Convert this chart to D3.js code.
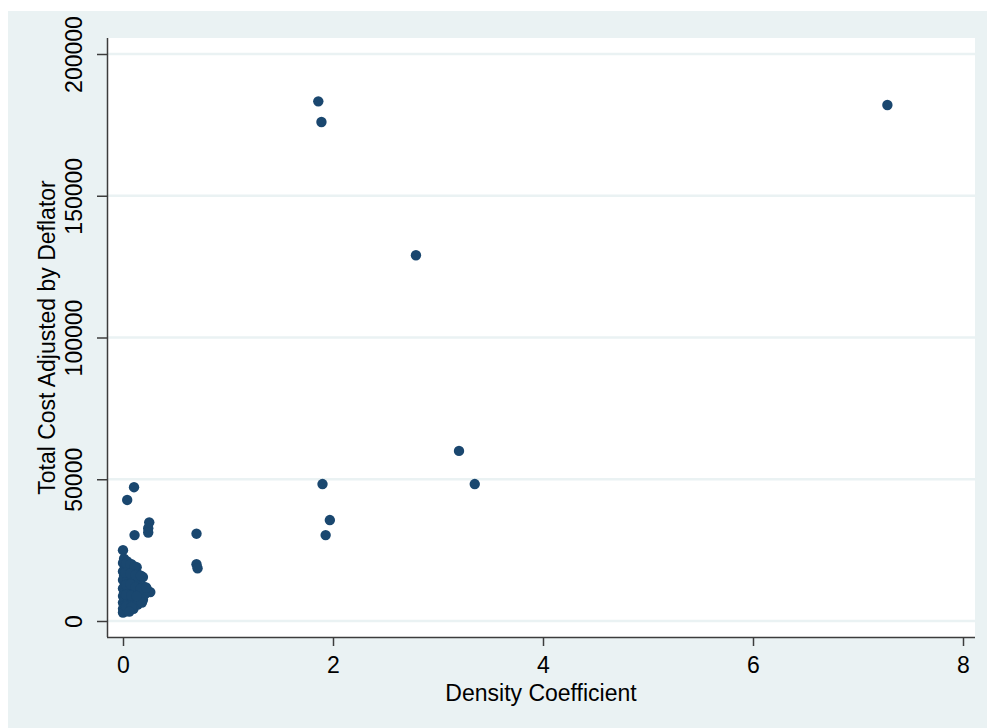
<!DOCTYPE html>
<html>
<head>
<meta charset="utf-8">
<script src="https://cdn.jsdelivr.net/npm/d3@7"></script>
<style>
  body { margin: 0; background: #fff; }
  svg { display: block; }
</style>
</head>
<body>
<script>
// Data
const densityCoef = [
  7.28, 1.86, 1.89, 2.79, 3.20, 3.35, 1.90, 1.97, 1.93, 0.70, 0.70, 0.71,
  0.25, 0.24, 0.24, 0.105, 0.04, 0.11,
  0.00, 0.01, 0.00, 0.02, 0.00, 0.01, 0.00, 0.02, 0.00, 0.01, 0.00, 0.02, 0.00, 0.01, 0.00, 0.02, 0.00,
  0.04, 0.06, 0.04, 0.05, 0.04, 0.06, 0.04, 0.05, 0.04, 0.06, 0.04, 0.05, 0.04,
  0.08, 0.10, 0.08, 0.09, 0.10, 0.08, 0.09, 0.10, 0.08, 0.09, 0.08, 0.10,
  0.13, 0.14, 0.15, 0.13, 0.16, 0.14, 0.15, 0.13, 0.16, 0.14,
  0.19, 0.20, 0.23, 0.26, 0.21, 0.19, 0.18,
  0.03, 0.07, 0.11, 0.02, 0.07, 0.12, 0.17, 0.03, 0.07, 0.12, 0.17, 0.22, 0.03, 0.08, 0.13, 0.03, 0.08, 0.06
];
const totalCost = [
  182000, 183300, 176000, 129000, 60000, 48300, 48300, 35600, 30300, 30800, 20000, 18600,
  34800, 32700, 31200, 47200, 42700, 30300,
  25000, 22000, 20500, 19000, 17500, 16000, 14500, 13000, 11500, 10000, 8800, 7600, 6500, 5400, 4300, 3400, 3000,
  21000, 19500, 18000, 16500, 14800, 13200, 11800, 10200, 8900, 7500, 6200, 5000, 3800,
  20000, 18800, 17000, 15500, 14000, 12500, 11000, 9500, 8200, 6800, 5500, 4300,
  19000, 16500, 15000, 13500, 12200, 10800, 9300, 8000, 6800, 5800,
  15500, 12000, 11000, 10200, 9500, 7500, 6500,
  20200, 20000, 19200, 17000, 16800, 16200, 16000, 12800, 13000, 12000, 11500, 11800, 9200, 9000, 8800, 5200, 5000, 3300
];
const xTicks = [0, 2, 4, 6, 8];
const yTicks = [0, 50000, 100000, 150000, 200000];
const xTitle = "Density Coefficient";
const yTitle = "Total Cost Adjusted by Deflator";

// Colors (Stata s2color)
const bgColor = '#eaf2f3';
const gridColor = '#eaf2f3';
const markerColor = '#1a476f';
const axisColor = '#3c3c3c';

const width = 987, height = 728;
const plot = { left: 107, right: 975, top: 38, bottom: 637 };
const fontFamily = '"Liberation Sans", Arial, sans-serif';
const fontSize = 23;

const x = d3.scaleLinear().domain([0, 8]).range([123, 963]);
const y = d3.scaleLinear().domain([0, 200000]).range([621, 54]);

const svg = d3.select("body").append("svg")
  .attr("width", width)
  .attr("height", height)
  .attr("font-family", fontFamily);

// graph region background
svg.append("rect")
  .attr("x", 8).attr("y", 11)
  .attr("width", width - 8).attr("height", height - 11)
  .attr("fill", bgColor);

// plot region
svg.append("rect")
  .attr("x", plot.left).attr("y", plot.top)
  .attr("width", plot.right - plot.left).attr("height", plot.bottom - plot.top)
  .attr("fill", "#fff");

// gridlines
svg.append("g")
  .selectAll("line")
  .data(yTicks)
  .join("line")
  .attr("x1", plot.left).attr("x2", plot.right)
  .attr("y1", d => y(d)).attr("y2", d => y(d))
  .attr("stroke", gridColor)
  .attr("stroke-width", 2.5);

// y axis
const yAxis = svg.append("g")
  .attr("transform", `translate(${plot.left},0)`)
  .call(d3.axisLeft(y).tickValues(yTicks).tickSize(10).tickPadding(0).tickFormat(d3.format("d")));
yAxis.select(".domain")
  .attr("d", `M0.5,${plot.top}V${plot.bottom}`)
  .attr("stroke", axisColor)
  .attr("stroke-width", 1.5);
yAxis.selectAll(".tick line").attr("stroke", axisColor).attr("stroke-width", 1.5);
yAxis.selectAll(".tick text")
  .attr("x", null).attr("dy", null)
  .attr("transform", `translate(${74 - plot.left},0) rotate(-90)`)
  .attr("text-anchor", "middle")
  .attr("dominant-baseline", "central")
  .attr("fill", "#000")
  .attr("font-family", fontFamily)
  .attr("font-size", fontSize);

// x axis
const xAxis = svg.append("g")
  .attr("transform", `translate(0,${plot.bottom})`)
  .call(d3.axisBottom(x).tickValues(xTicks).tickSize(9).tickPadding(0).tickFormat(d3.format("d")));
xAxis.select(".domain")
  .attr("d", `M${plot.left},0.5H${plot.right}`)
  .attr("stroke", axisColor)
  .attr("stroke-width", 1.5);
xAxis.selectAll(".tick line").attr("stroke", axisColor).attr("stroke-width", 1.5);
xAxis.selectAll(".tick text")
  .attr("y", 28).attr("dy", null)
  .attr("dominant-baseline", "central")
  .attr("fill", "#000")
  .attr("font-family", fontFamily)
  .attr("font-size", fontSize);

// axis titles
svg.append("text")
  .attr("x", (plot.left + plot.right) / 2)
  .attr("y", 693)
  .attr("text-anchor", "middle")
  .attr("dominant-baseline", "central")
  .attr("font-size", fontSize)
  .text(xTitle);

svg.append("text")
  .attr("transform", `translate(47,${(plot.top + plot.bottom) / 2}) rotate(-90)`)
  .attr("text-anchor", "middle")
  .attr("dominant-baseline", "central")
  .attr("font-size", fontSize)
  .text(yTitle);

// markers
svg.append("g")
  .selectAll("circle")
  .data(d3.range(densityCoef.length))
  .join("circle")
  .attr("cx", i => x(densityCoef[i]))
  .attr("cy", i => y(totalCost[i]))
  .attr("r", 5.2)
  .attr("fill", markerColor);
</script>
</body>
</html>
